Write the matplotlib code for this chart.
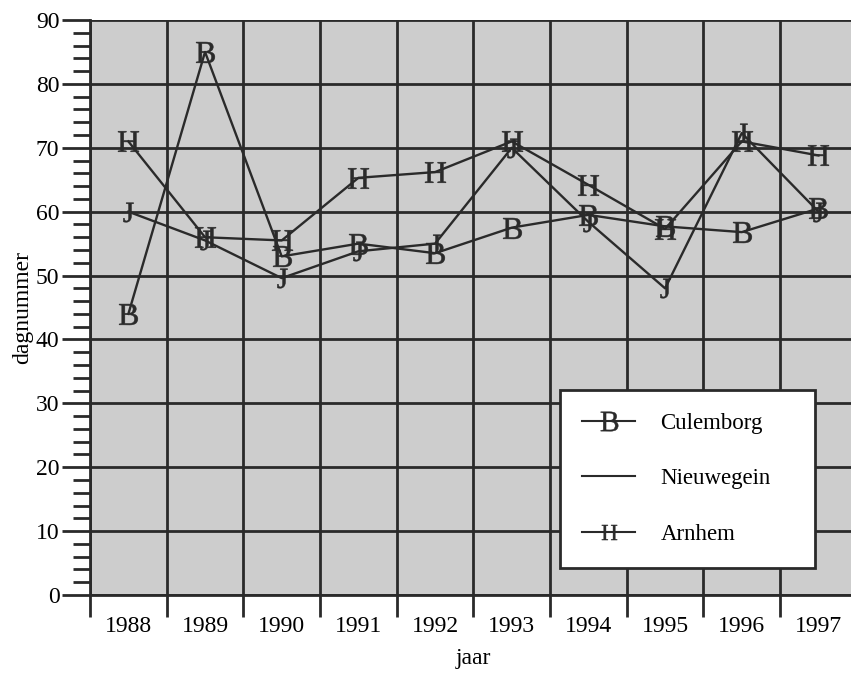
import numpy as np
import matplotlib.pyplot as plt
from matplotlib.lines import Line2D

plt.rcParams['font.family'] = ['Liberation Serif', 'DejaVu Serif']
plt.rcParams['mathtext.fontset'] = 'custom'
plt.rcParams['mathtext.rm'] = 'Liberation Serif'

years = ["1988", "1989", "1990", "1991", "1992", "1993", "1994", "1995", "1996", "1997"]
culemborg = [44, 85, 53, 55, 53.5, 57.5, 59.5, 57.7, 56.8, 60.5]
nieuwegein = [60, 55.5, 49.6, 53.8, 55, 70, 58.4, 48, 72.3, 60]
arnhem = [71, 56, 55.5, 65.3, 66.2, 71, 64.2, 57.3, 71, 68.8]

ink = "#2a2a2a"
x = np.arange(len(years)) + 0.5

fig = plt.figure(figsize=(8.51, 6.74), dpi=100)
ax = fig.add_axes([0.1058, 0.1172, 0.901, 0.8531])
ax.set_facecolor("#cdcdcd")

ax.plot(x, culemborg, color=ink, lw=1.7, marker="$\\mathrm{B}$", markersize=15, mew=0.4, zorder=3)
ax.plot(x, nieuwegein, color=ink, lw=1.7, marker="$\\mathrm{J}$", markersize=14, mew=0.4, zorder=3)
ax.plot(x, arnhem, color=ink, lw=1.7, marker="$\\mathrm{H}$", markersize=15, mew=0.4, zorder=3)

ax.set_xlim(0, len(years))
ax.set_ylim(0, 90)
ax.set_xticks(np.arange(0, len(years) + 1))
ax.set_xticklabels([])
ax.set_xticks(x, minor=True)
ax.set_xticklabels(years, minor=True, fontsize=17)
ax.tick_params(axis="x", which="major", direction="out", length=16, width=2, color=ink)
ax.tick_params(axis="x", which="minor", length=0, pad=15)

ax.set_yticks(np.arange(0, 91, 10))
ax.set_yticks(np.arange(0, 91, 2), minor=True)
ax.tick_params(axis="y", which="major", direction="out", length=20, width=2, color=ink, labelsize=17, pad=2)
ax.tick_params(axis="y", which="minor", direction="out", length=12, width=2, color=ink)

ax.grid(True, which="major", color=ink, lw=2, zorder=1)
ax.set_axisbelow(True)
for side in ["top", "right"]:
    ax.spines[side].set_visible(False)
for side in ["left", "bottom"]:
    ax.spines[side].set_color(ink)
    ax.spines[side].set_linewidth(2)

ax.set_xlabel("jaar", fontsize=17, labelpad=8)
ax.set_ylabel("dagnummer", fontsize=17)
ax.yaxis.set_label_coords(-0.074, 0.5)

handles = [
    Line2D([], [], color=ink, lw=1.5, marker="$\\mathrm{B}$", markersize=14, mew=0.3),
    Line2D([], [], color=ink, lw=1.5),
    Line2D([], [], color=ink, lw=1.5, marker="$\\mathrm{H}$", markersize=11, mew=0.3),
]
leg = fig.legend(handles, ["Culemborg", "Nieuwegein", "Arnhem"],
                 loc="lower left", bbox_to_anchor=(0.644, 0.141, 0.327, 0.261),
                 mode="expand", fontsize=16.5, numpoints=1, handlelength=2.3,
                 labelspacing=1.5, borderpad=1.0, handletextpad=1.1,
                 fancybox=False, framealpha=1, edgecolor=ink)
leg.get_frame().set_linewidth(2)

fig.savefig("out.png", dpi=100)
